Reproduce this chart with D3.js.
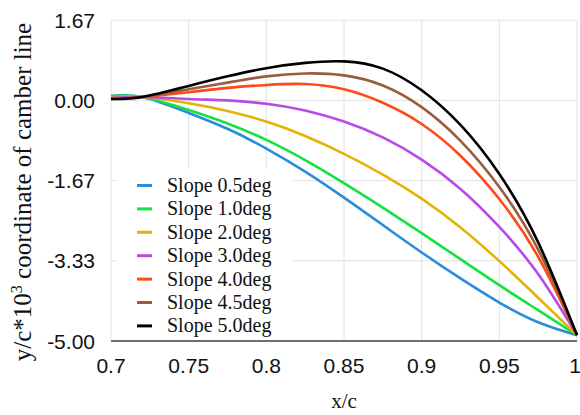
<!DOCTYPE html>
<html lang="en">
<head>
  <meta charset="UTF-8">
  <title>Camber line coordinates</title>
  <script src="https://d3js.org/d3.v7.min.js"></script>
  <style>
    body { margin: 0; background: #fff; }
    svg { display: block; }
    .tick-label { font-family: "Liberation Sans", Arial, sans-serif; font-size: 21px; fill: #111; }
    .serif { font-family: "Liberation Serif", "Times New Roman", serif; fill: #111; }
  </style>
</head>
<body>
  <svg width="580" height="415"></svg>

  <script>
    // x/c positions where the curves were read
    const xVals = [0.70, 0.72, 0.75, 0.775, 0.80, 0.825, 0.85, 0.875, 0.90, 0.925, 0.95, 0.975, 1.00];

    // y/c*10^3 for each slope
    const slope05 = [0.09, 0.07, -0.26, -0.59, -1.00, -1.48, -2.02, -2.59, -3.16, -3.70, -4.20, -4.61, -4.88];
    const slope10 = [0.09, 0.07, -0.20, -0.48, -0.82, -1.24, -1.72, -2.23, -2.76, -3.30, -3.84, -4.36, -4.88];
    const slope20 = [0.06, 0.07, -0.06, -0.22, -0.44, -0.74, -1.11, -1.54, -2.04, -2.64, -3.34, -4.10, -4.88];
    const slope30 = [0.05, 0.07, 0.03, 0.00, -0.07, -0.21, -0.44, -0.77, -1.23, -1.84, -2.63, -3.61, -4.88];
    const slope40 = [0.03, 0.07, 0.17, 0.26, 0.32, 0.34, 0.23, -0.05, -0.49, -1.15, -2.05, -3.25, -4.88];
    const slope45 = [0.03, 0.07, 0.23, 0.37, 0.50, 0.56, 0.52, 0.31, -0.14, -0.84, -1.80, -3.10, -4.88];
    const slope50 = [0.03, 0.07, 0.30, 0.50, 0.67, 0.78, 0.81, 0.66, 0.21, -0.51, -1.53, -2.95, -4.88];

    const seriesNames = ["Slope 0.5deg", "Slope 1.0deg", "Slope 2.0deg", "Slope 3.0deg", "Slope 4.0deg", "Slope 4.5deg", "Slope 5.0deg"];
    const seriesValues = [slope05, slope10, slope20, slope30, slope40, slope45, slope50];
    const colors = ["#2a8ddc", "#15e23f", "#e2b406", "#b84ae6", "#ff4a17", "#9a5c3e", "#000000"];

    // axis ticks
    const xTicks = [0.7, 0.75, 0.8, 0.85, 0.9, 0.95, 1.0];
    const xTickLabels = ["0.7", "0.75", "0.8", "0.85", "0.9", "0.95", "1"];
    const yTicks = [-5, -10 / 3, -5 / 3, 0, 5 / 3];
    const yTickLabels = ["-5.00", "-3.33", "-1.67", "0.00", "1.67"];

    const svg = d3.select("svg");

    const x = d3.scaleLinear().domain([0.7, 1.0]).range([111, 577]);
    const y = d3.scaleLinear().domain([-5, 5 / 3]).range([341, 20.2]);

    // grid
    svg.append("g")
      .selectAll("line")
      .data(xTicks)
      .join("line")
      .attr("x1", d => x(d)).attr("x2", d => x(d))
      .attr("y1", y(5 / 3)).attr("y2", y(-5))
      .attr("stroke", "#e2e2e2").attr("stroke-width", 1);

    svg.append("g")
      .selectAll("line")
      .data(yTicks)
      .join("line")
      .attr("x1", x(0.7)).attr("x2", x(1.0))
      .attr("y1", d => y(d)).attr("y2", d => y(d))
      .attr("stroke", "#e2e2e2").attr("stroke-width", 1);

    // bottom axis line
    svg.append("line")
      .attr("x1", x(0.7)).attr("x2", x(1.0))
      .attr("y1", y(-5)).attr("y2", y(-5))
      .attr("stroke", "#444").attr("stroke-width", 1.5);

    // tick labels
    svg.append("g")
      .selectAll("text")
      .data(xTicks)
      .join("text")
      .attr("class", "tick-label")
      .attr("x", d => d === 1 ? x(d) - 2 : x(d))
      .attr("y", 373)
      .attr("text-anchor", "middle")
      .text((d, i) => xTickLabels[i]);

    svg.append("g")
      .selectAll("text")
      .data(yTicks)
      .join("text")
      .attr("class", "tick-label")
      .attr("x", 95)
      .attr("y", d => y(d) + 7.5)
      .attr("text-anchor", "end")
      .text((d, i) => yTickLabels[i]);

    // curves
    const line = d3.line()
      .curve(d3.curveNatural)
      .x((d, i) => x(xVals[i]))
      .y(d => y(d));

    svg.append("g")
      .selectAll("path")
      .data(seriesValues)
      .join("path")
      .attr("fill", "none")
      .attr("stroke", (d, i) => colors[i])
      .attr("stroke-width", 2.6)
      .attr("d", line);

    // legend
    const legend = svg.append("g");
    legend.append("rect")
      .attr("x", 117).attr("y", 169)
      .attr("width", 176).attr("height", 171)
      .attr("fill", "#fff");

    const items = legend.selectAll("g")
      .data(seriesNames)
      .join("g")
      .attr("transform", (d, i) => `translate(0, ${185.5 + i * 23.4})`);

    items.append("line")
      .attr("x1", 137).attr("x2", 152)
      .attr("y1", 0).attr("y2", 0)
      .attr("stroke", (d, i) => colors[i])
      .attr("stroke-width", 3);

    items.append("text")
      .attr("class", "serif")
      .attr("x", 167)
      .attr("y", 6.5)
      .style("font-size", "20px")
      .text(d => d);

    // axis titles
    svg.append("text")
      .attr("class", "serif")
      .attr("x", 344)
      .attr("y", 408)
      .attr("text-anchor", "middle")
      .style("font-size", "21px")
      .text("x/c");

    const yTitle = svg.append("text")
      .attr("class", "serif")
      .attr("transform", "translate(31, 192) rotate(-90)")
      .attr("text-anchor", "middle")
      .style("font-size", "25px");
    yTitle.append("tspan").text("y/c*10");
    yTitle.append("tspan").attr("dy", -9).style("font-size", "16px").text("3");
    yTitle.append("tspan").attr("dy", 9).text(" coordinate of camber line");
  </script>
</body>
</html>
